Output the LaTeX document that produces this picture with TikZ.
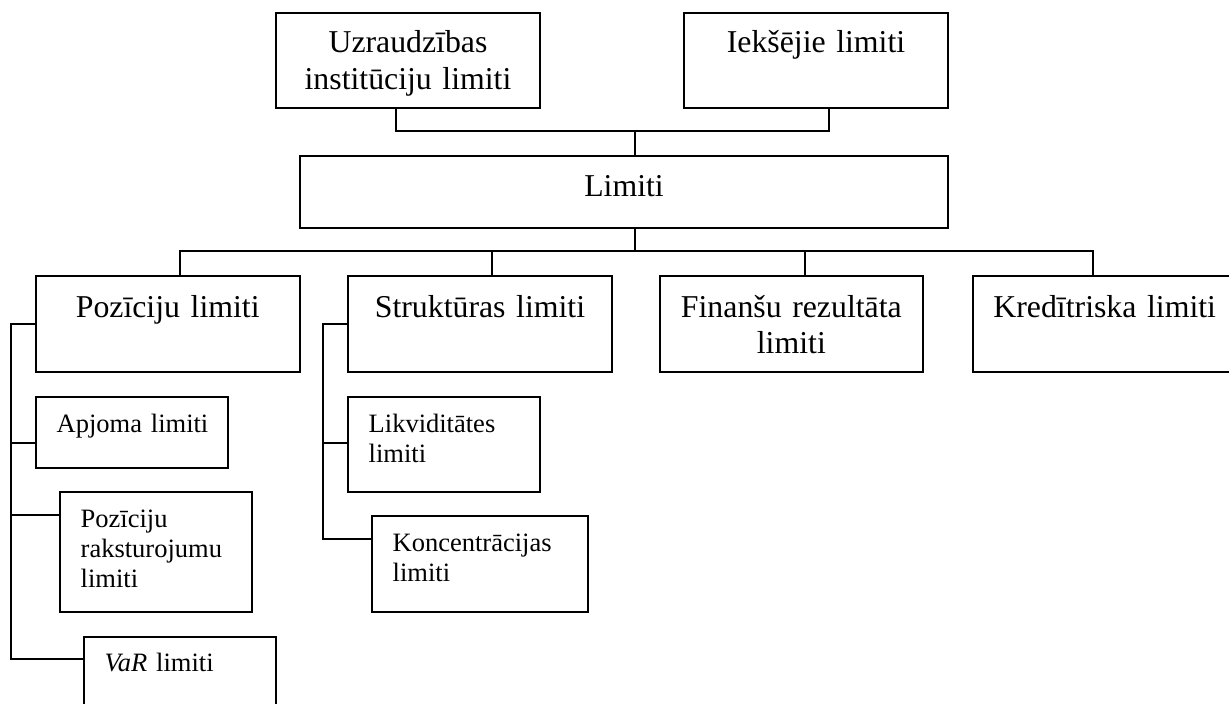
\documentclass[tikz,border=0pt]{standalone}
\usepackage{fontspec}
\setmainfont{Liberation Serif}
\usepackage{tikz}
\newcommand{\limbig}{\fontsize{31.8}{36.7}\selectfont}
\newcommand{\limsmall}{\fontsize{26.5}{30}\selectfont}
\tikzset{
    conn/.style={line width=2pt, black},
    bigbox/.style={draw, line width=2pt, anchor=north west, inner xsep=0pt, inner ysep=0pt, align=center, font=\limbig},
    smallbox/.style={draw, line width=2pt, anchor=north west, inner xsep=21pt, inner ysep=0pt, align=left, font=\limsmall}
}

\begin{document}
\begin{tikzpicture}[x=1pt, y=-1pt]

\useasboundingbox (0,0) rectangle (1229,704);
\clip (0,0) rectangle (1229,704);

% === Augšējais līmenis ===
\node[bigbox, text width=264.6pt, text height=40pt, text depth=55.3pt] (uzr) at (274.7,11.7) {Uzraudzības\\institūciju limiti};
\node[bigbox, text width=264.6pt, text height=40pt, text depth=55.3pt] (iek) at (682.7,11.7) {Iekšējie limiti};

% Limiti
\node[bigbox, text width=648.6pt, text height=40pt, text depth=32.3pt] (lim) at (298.7,155) {Limiti};

% === Limitu veidi ===
\node[bigbox, text width=264pt, text height=40.7pt, text depth=55pt] (poz) at (34.7,275.3) {Pozīciju limiti};
\node[bigbox, text width=264.6pt, text height=40.7pt, text depth=55pt] (str) at (346.7,275.3) {Struktūras limiti};
\node[bigbox, text width=262.7pt, text height=40.7pt, text depth=55pt] (fin) at (659,275.3) {Finanšu rezultāta\\limiti};
\node[bigbox, text width=264pt, text height=40.7pt, text depth=55pt] (kred) at (971.7,275.3) {Kredītriska limiti};

% Pozīciju limitu apakšgrupas
\node[smallbox, text width=150.6pt, text height=36pt, text depth=35.6pt] (apj) at (34.7,395.7) {\mbox{Apjoma limiti}};
\node[smallbox, text width=150pt, text height=35.4pt, text depth=84.6pt] (pzr) at (58.7,491.3) {Pozīciju\\raksturojumu\\limiti};
\node[smallbox, text width=150.3pt, text height=34.3pt, text depth=37.7pt] (var) at (82.7,635.7) {\mbox{\textit{VaR} limiti}};

% Struktūras limitu apakšgrupas
\node[smallbox, text width=150.6pt, text height=36pt, text depth=59.6pt] (lik) at (346.7,395.7) {Likviditātes\\limiti};
\node[smallbox, text width=174.6pt, text height=34.7pt, text depth=61.3pt] (kon) at (370.7,515.3) {Koncentrācijas\\limiti};

% === Savienojumi ===
\coordinate (topjoin) at (635.3,131);
\draw[conn] ([xshift=-12pt]uzr.south) |- (topjoin) -| ([xshift=12.7pt]iek.south);
\draw[conn] (topjoin) -- (topjoin |- lim.north);

\coordinate (busjoin) at (635.3,250.7);
\draw[conn] (busjoin |- lim.south) -- (busjoin);
\draw[conn] ([xshift=12.3pt]poz.north) |- (busjoin) -| ([xshift=-12pt]kred.north);
\draw[conn] ([xshift=12pt]str.north) |- (busjoin);
\draw[conn] ([xshift=13.3pt]fin.north) |- (busjoin);

% kreisā ass
\coordinate (pspine) at (11,659.3);
\draw[conn] (poz.west) -| (pspine) -- ([yshift=-23.6pt]var.north west);
\draw[conn] ([yshift=-47.6pt]apj.north west) -| (pspine);
\draw[conn] ([yshift=-24pt]pzr.north west) -| (pspine);

% struktūras ass
\coordinate (sspine) at (323,539);
\draw[conn] (str.west) -| (sspine) -- ([yshift=-23.7pt]kon.north west);
\draw[conn] ([yshift=-47.6pt]lik.north west) -| (sspine);

\end{tikzpicture}
\end{document}
